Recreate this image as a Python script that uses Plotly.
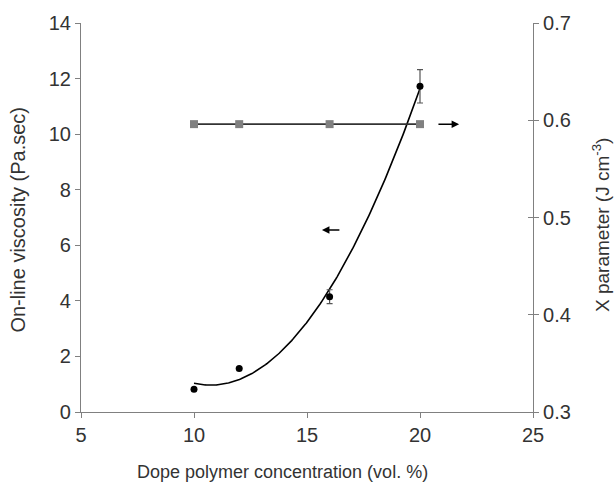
import numpy as np
import plotly.graph_objects as go

conc = [10, 12, 16, 20]
viscosity = [0.82, 1.57, 4.15, 11.72]
visc_err = [0.0, 0.0, 0.25, 0.6]
x_param = [0.596, 0.596, 0.596, 0.596]

x_ticks = [5, 10, 15, 20, 25]
y_ticks = [0, 2, 4, 6, 8, 10, 12, 14]
y2_ticks = [0.3, 0.4, 0.5, 0.6, 0.7]

# 2nd-order polynomial trendline through the viscosity data
coef = np.polyfit(conc, viscosity, 2)
trend_x = np.linspace(min(conc), max(conc), 200)
trend_y = np.polyval(coef, trend_x)

axis_col = "#808080"
txt_col = "#333333"
font_fam = "Liberation Sans, Arial, sans-serif"

fig = go.Figure()

fig.add_trace(go.Scatter(x=trend_x, y=trend_y, mode="lines",
                         line=dict(color="black", width=1.6), hoverinfo="skip"))
fig.add_trace(go.Scatter(x=conc, y=viscosity, mode="markers",
                         marker=dict(color="black", size=7, symbol="circle"),
                         error_y=dict(type="data", array=visc_err, visible=True,
                                      color="#555555", thickness=1.2, width=3)))
fig.add_trace(go.Scatter(x=conc, y=x_param, yaxis="y2", mode="lines+markers",
                         line=dict(color="#333333", width=1.6),
                         marker=dict(color="#808080", size=8, symbol="square")))
fig.add_trace(go.Scatter(x=[None], y=[None], yaxis="y3", showlegend=False))

# direction arrows
fig.add_annotation(x=15.66, y=6.55, ax=16.5, ay=6.55, xref="x", yref="y",
                   axref="x", ayref="y", showarrow=True, arrowhead=2,
                   arrowsize=1, arrowwidth=1.5, arrowcolor="black", text="")
fig.add_annotation(x=21.73, y=0.596, ax=20.75, ay=0.596, xref="x", yref="y2",
                   axref="x", ayref="y2", showarrow=True, arrowhead=2,
                   arrowsize=1, arrowwidth=1.5, arrowcolor="black", text="")

# axis titles
fig.add_annotation(text="On-line viscosity (Pa.sec)", xref="paper", yref="paper",
                   x=-0.139, y=0.495, textangle=-90, showarrow=False,
                   xanchor="center", yanchor="middle",
                   font=dict(size=20, color=txt_col, family=font_fam))
fig.add_annotation(text="X parameter (J cm<sup>-3</sup>)", xref="paper", yref="paper",
                   x=1.152, y=0.48, textangle=-90, showarrow=False,
                   xanchor="center", yanchor="middle",
                   font=dict(size=19, color=txt_col, family=font_fam))
fig.add_annotation(text="Dope polymer concentration (vol. %)", xref="paper", yref="paper",
                   x=0.445, y=-0.155, showarrow=False,
                   xanchor="center", yanchor="middle",
                   font=dict(size=18, color=txt_col, family=font_fam))

fig.update_layout(
    width=616, height=493,
    margin=dict(l=81, r=83, t=19, b=81),
    paper_bgcolor="white", plot_bgcolor="white",
    showlegend=False,
    font=dict(family=font_fam, color=txt_col),
    xaxis=dict(range=[5, 25], tickvals=x_ticks, showgrid=False, zeroline=False,
               showline=True, linecolor=axis_col, linewidth=1.2,
               ticks="outside", ticklen=5, tickcolor=axis_col,
               tickfont=dict(size=20, color=txt_col)),
    yaxis=dict(range=[0, 14], tickvals=y_ticks, showgrid=False, zeroline=False,
               showline=True, linecolor=axis_col, linewidth=1.2,
               ticks="outside", ticklen=5, tickcolor=axis_col,
               tickfont=dict(size=20, color=txt_col)),
    yaxis2=dict(range=[0.3, 0.7], tickvals=y2_ticks, overlaying="y", side="right",
                showgrid=False, zeroline=False, showline=True, linecolor=axis_col,
                linewidth=1.2, ticks="outside", ticklen=5, tickcolor=axis_col,
                tickformat=".1f",
                tickfont=dict(size=20, color=txt_col)),
    yaxis3=dict(range=[0.3, 0.7], tickvals=y2_ticks, overlaying="y", side="right",
                showgrid=False, zeroline=False, showline=False,
                ticks="inside", ticklen=5, tickcolor=axis_col, showticklabels=False),
)

fig.write_html("out.html")
